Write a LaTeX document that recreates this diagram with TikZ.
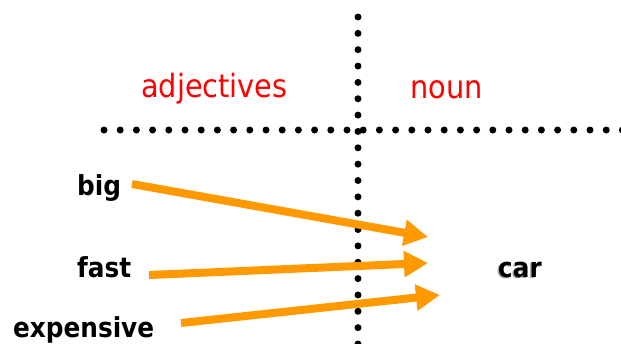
\documentclass[tikz,border=0pt]{standalone}
\usepackage{fontspec}
\setmainfont{DejaVu Sans Condensed}
\usetikzlibrary{arrows.meta}
\definecolor{arrorange}{RGB}{255,153,0}
\definecolor{hdrred}{RGB}{255,0,0}
\newcommand{\shadowtext}[1]{{\color{black!35}\rlap{\kern-1.5pt\raisebox{-1.5pt}{#1}}}#1}
\tikzset{
  dotmark/.style={fill=black},
  header/.style={text=hdrred,font=\fontsize{32}{36}\selectfont,inner sep=0pt,anchor=base west},
  word/.style={text=black,font=\bfseries\fontsize{27.5}{30}\selectfont,inner sep=0pt,anchor=base west},
  link/.style={draw=arrorange,line width=8pt,-{Triangle[length=24pt,width=25pt]}},
}
\begin{document}
\begin{tikzpicture}[x=1pt,y=-1pt]
\useasboundingbox (0,0) rectangle (621,343);
% dotted axes
\foreach \i in {0,...,20} \fill[dotmark] (358,17+16.35*\i) circle (3.5pt);
\foreach \i in {0,...,32} \fill[dotmark] (104+16.2*\i,130) circle (3.5pt);
% headers
\node[header] (adj) at (141,97) {adjectives};
\node[header] (noun) at (410,98) {noun};
% words
\node[word] (big) at (77,195) {big};
\node[word] (fast) at (77,277) {fast};
\node[word] (exp) at (13,337) {expensive};
\node[word] (car) at (498,277) {\shadowtext{car}};
% arrow ends
\coordinate (s1) at (132,184);
\coordinate (t1) at (428,237);
\coordinate (s2) at (149,275);
\coordinate (t2) at (428,263);
\coordinate (s3) at (181,323);
\coordinate (t3) at (440,295);
\draw[link] (s1) -- (t1);
\draw[link] (s2) -- (t2);
\draw[link] (s3) -- (t3);
\end{tikzpicture}
\end{document}
